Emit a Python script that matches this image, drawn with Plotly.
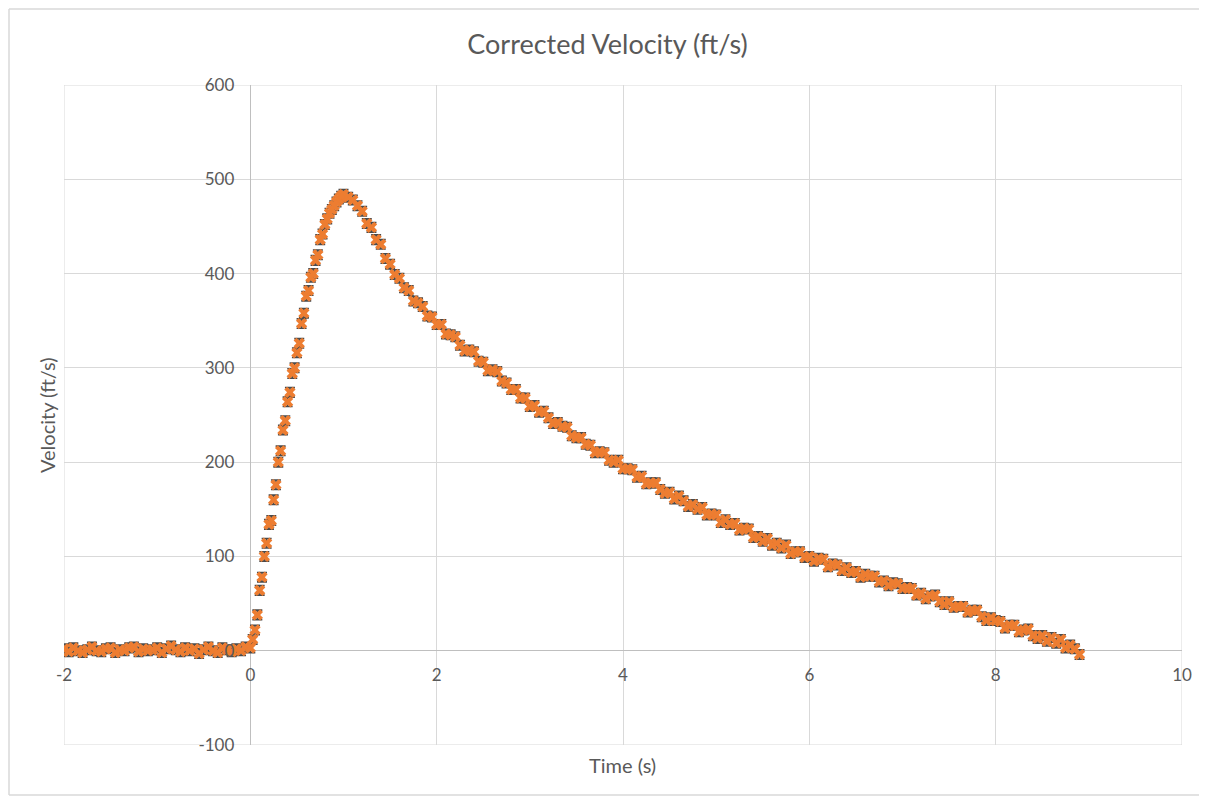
import plotly.graph_objects as go

# ---------------- data ----------------
baseline_time = [-2.00, -1.95, -1.90, -1.85, -1.80, -1.75, -1.70, -1.65, -1.60, -1.55,
                 -1.50, -1.45, -1.40, -1.35, -1.30, -1.25, -1.20, -1.15, -1.10, -1.05,
                 -1.00, -0.95, -0.90, -0.85, -0.80, -0.75, -0.70, -0.65, -0.60, -0.55,
                 -0.50, -0.45, -0.40, -0.35, -0.30, -0.25, -0.20, -0.15, -0.10, -0.05]
baseline_vel = [2, -1, 3, 0, -2, 1, 4, 0, -1, 2,
                3, -2, 1, 0, 3, 4, -1, 2, 0, 1,
                3, -2, 2, 5, 1, -1, 3, 0, 2, -3,
                1, 4, 0, -2, 3, 1, -1, 2, 0, 4]

rise_time = [0.000, 0.025, 0.050, 0.075, 0.100, 0.125, 0.150, 0.175, 0.200, 0.225,
             0.250, 0.275, 0.300, 0.325, 0.350, 0.375, 0.400, 0.425, 0.450, 0.475,
             0.500, 0.525, 0.550, 0.575, 0.600, 0.625, 0.650, 0.675, 0.700, 0.725,
             0.750, 0.775, 0.800, 0.825, 0.850, 0.875, 0.900, 0.925, 0.950, 0.975,
             1.000]
rise_vel = [3, 12, 22, 38, 64, 78, 100, 114, 134, 138,
            160, 176, 200, 212, 234, 244, 264, 274, 294, 300,
            316, 326, 347, 358, 376, 382, 396, 400, 414, 420,
            436, 442, 452, 458, 464, 468, 472, 476, 479, 482,
            484]

decay_time = [1.05, 1.10, 1.15, 1.20, 1.25, 1.30, 1.35, 1.40, 1.45, 1.50,
              1.55, 1.60, 1.65, 1.70, 1.75, 1.80, 1.85, 1.90, 1.95, 2.00,
              2.05, 2.10, 2.15, 2.20, 2.25, 2.30, 2.35, 2.40, 2.45, 2.50,
              2.55, 2.60, 2.65, 2.70, 2.75, 2.80, 2.85, 2.90, 2.95, 3.00,
              3.05, 3.10, 3.15, 3.20, 3.25, 3.30, 3.35, 3.40, 3.45, 3.50,
              3.55, 3.60, 3.65, 3.70, 3.75, 3.80, 3.85, 3.90, 3.95, 4.00,
              4.05, 4.10, 4.15, 4.20, 4.25, 4.30, 4.35, 4.40, 4.45, 4.50,
              4.55, 4.60, 4.65, 4.70, 4.75, 4.80, 4.85, 4.90, 4.95, 5.00,
              5.05, 5.10, 5.15, 5.20, 5.25, 5.30, 5.35, 5.40, 5.45, 5.50,
              5.55, 5.60, 5.65, 5.70, 5.75, 5.80, 5.85, 5.90, 5.95, 6.00,
              6.05, 6.10, 6.15, 6.20, 6.25, 6.30, 6.35, 6.40, 6.45, 6.50,
              6.55, 6.60, 6.65, 6.70, 6.75, 6.80, 6.85, 6.90, 6.95, 7.00,
              7.05, 7.10, 7.15, 7.20, 7.25, 7.30, 7.35, 7.40, 7.45, 7.50,
              7.55, 7.60, 7.65, 7.70, 7.75, 7.80, 7.85, 7.90, 7.95, 8.00,
              8.05, 8.10, 8.15, 8.20, 8.25, 8.30, 8.35, 8.40, 8.45, 8.50,
              8.55, 8.60, 8.65, 8.70, 8.75, 8.80, 8.85, 8.90]
decay_vel = [481, 478, 472, 466, 453, 449, 436, 431, 416, 410,
             399, 395, 385, 382, 371, 369, 365, 355, 354, 346,
             346, 336, 335, 333, 324, 318, 319, 317, 307, 306,
             297, 298, 296, 286, 284, 277, 277, 268, 268, 259,
             260, 253, 254, 247, 241, 242, 238, 237, 228, 226,
             226, 219, 218, 210, 211, 210, 202, 200, 202, 193,
             193, 192, 184, 185, 177, 178, 178, 171, 167, 168,
             161, 164, 159, 153, 155, 150, 152, 144, 145, 144,
             136, 139, 134, 135, 128, 130, 129, 120, 121, 116,
             119, 112, 114, 109, 112, 103, 105, 105, 99, 100,
             95, 98, 97, 89, 92, 91, 85, 88, 83, 84,
             78, 81, 79, 79, 73, 74, 69, 72, 71, 66,
             67, 66, 59, 61, 55, 58, 59, 52, 49, 52,
             46, 47, 47, 41, 43, 43, 36, 32, 35, 32,
             31, 24, 27, 27, 20, 22, 23, 16, 13, 16,
             10, 14, 8, 12, 3, 6, 2, -4]

x_ticks = [-2, 0, 2, 4, 6, 8, 10]
y_ticks = [-100, 0, 100, 200, 300, 400, 500, 600]

time_all = baseline_time + rise_time + decay_time
vel_all = baseline_vel + rise_vel + decay_vel

# ---------------- figure ----------------
FONT = "Lato, 'Open Sans', sans-serif"
GRID = "#d9d9d9"
TXT = "#595959"

# the page body has an 8px margin; page coordinates are converted below
OFF = 8
W, H = 1207 - OFF, 799 - OFF
L, R, T, B = 64 - OFF, 25, 85 - OFF, 54
PW, PH = W - L - R, H - T - B


def px(xpage):
    return ((xpage - OFF) - L) / PW


def py(ypage):
    return ((H - B) - (ypage - OFF)) / PH


fig = go.Figure()
fig.add_trace(go.Scatter(
    x=time_all, y=vel_all, mode="markers",
    marker=dict(symbol="x", size=10, color="#ED7D31", line=dict(width=0)),
    error_y=dict(type="constant", value=5, color="#4a4a4a", thickness=1.6, width=5),
    showlegend=False, hoverinfo="x+y",
))

xr = [-2, 10]
yr = [-100, 600]
x_zero_frac = (0 - xr[0]) / (xr[1] - xr[0])
y_zero_frac = (0 - yr[0]) / (yr[1] - yr[0])

border = dict(color="#d9d9d9", width=1.5)

fig.update_layout(
    width=W, height=H,
    margin=dict(l=L, r=R, t=T, b=B),
    paper_bgcolor="white", plot_bgcolor="white",
    font=dict(family=FONT, color=TXT, size=16),
    title=dict(text="Corrected Velocity (ft/s)", x=0.5, xanchor="center",
               y=1 - (45 - OFF) / H, yanchor="middle",
               font=dict(family=FONT, size=27, color=TXT)),
    xaxis=dict(range=xr, tickvals=x_ticks, ticktext=[str(v) for v in x_ticks],
               showgrid=True, gridcolor=GRID, gridwidth=1,
               zeroline=True, zerolinecolor="#bfbfbf", zerolinewidth=1.3,
               showline=False, ticks="", anchor="free", position=y_zero_frac,
               ticklabelstandoff=12, tickfont=dict(size=17, color=TXT)),
    yaxis=dict(range=yr, tickvals=y_ticks, ticktext=[str(v) for v in y_ticks],
               showgrid=True, gridcolor=GRID, gridwidth=1,
               zeroline=True, zerolinecolor="#bfbfbf", zerolinewidth=1.3,
               showline=False, ticks="", anchor="free", position=x_zero_frac,
               ticklabelstandoff=16, tickfont=dict(size=17, color=TXT)),
    annotations=[
        dict(text="Time (s)", xref="paper", yref="paper",
             x=px(622), y=py(765),
             xanchor="center", yanchor="middle", showarrow=False,
             font=dict(family=FONT, size=20, color=TXT)),
        dict(text="Velocity (ft/s)", xref="paper", yref="paper",
             x=px(47), y=py(415),
             xanchor="center", yanchor="middle", showarrow=False, textangle=-90,
             font=dict(family=FONT, size=20, color=TXT)),
    ],
    shapes=[
        # plot-area frame (outer grid box)
        dict(type="rect", xref="x", yref="y", x0=xr[0], x1=xr[1], y0=yr[0], y1=yr[1],
             line=dict(color=GRID, width=1), layer="below"),
        # chart-area border: left, top and bottom edges only
        dict(type="line", xref="paper", yref="paper",
             x0=px(9), x1=px(9), y0=py(795), y1=py(9), line=border, layer="below"),
        dict(type="line", xref="paper", yref="paper",
             x0=px(9), x1=px(1207), y0=py(9), y1=py(9), line=border, layer="below"),
        dict(type="line", xref="paper", yref="paper",
             x0=px(9), x1=px(1207), y0=py(795), y1=py(795), line=border, layer="below"),
    ],
)

fig.write_html("out.html")
